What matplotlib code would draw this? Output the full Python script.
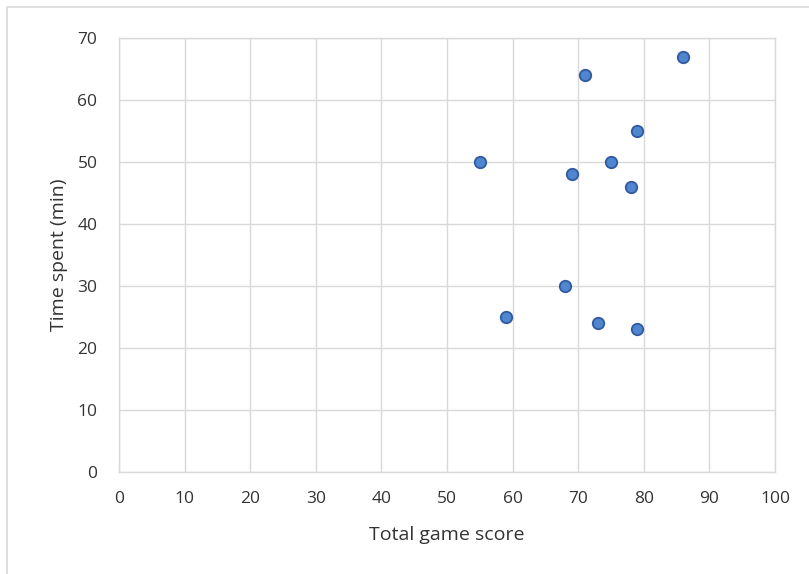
import matplotlib
matplotlib.use("Agg")
import matplotlib.pyplot as plt
from matplotlib.patches import Rectangle

# Score vs. time data
total_score = [86, 71, 79, 55, 75, 69, 78, 68, 59, 73, 79]
time_spent = [67, 64, 55, 50, 50, 48, 46, 30, 25, 24, 23]

x_ticks = [0, 10, 20, 30, 40, 50, 60, 70, 80, 90, 100]
y_ticks = [0, 10, 20, 30, 40, 50, 60, 70]

plt.rcParams['font.family'] = ['Open Sans', 'DejaVu Sans']

fig = plt.figure(figsize=(8.09, 5.74), dpi=100)
ax = fig.add_axes([119 / 809, 1 - 472 / 574, (775 - 119) / 809, (472 - 38) / 574])

# outer chart frame
fig.patches.append(Rectangle((7 / 809, -0.01), 1.0, 1 - 7 / 574 + 0.01,
                             transform=fig.transFigure, fill=False,
                             edgecolor='#d9d9d9', linewidth=1.2))

ax.scatter(total_score, time_spent, s=68, color='#4f86cf', edgecolors='#30599e',
           linewidths=1.3, zorder=3)

ax.set_xlim(0, 100)
ax.set_ylim(0, 70)
ax.set_xticks(x_ticks)
ax.set_yticks(y_ticks)
ax.grid(True, color='#d9d9d9', linewidth=1.0)
ax.set_axisbelow(True)
for s in ax.spines.values():
    s.set_color('#d9d9d9')
    s.set_linewidth(1.0)
ax.tick_params(length=0, labelsize=12.5, colors='#333333')
ax.tick_params(axis='x', pad=14)
ax.tick_params(axis='y', pad=15.5)

ax.set_xlabel('Total game score', fontsize=14, color='#333333', labelpad=13)
ax.set_ylabel('Time spent (min)', fontsize=14, color='#333333', labelpad=7)

fig.savefig('out.png', dpi=100)
